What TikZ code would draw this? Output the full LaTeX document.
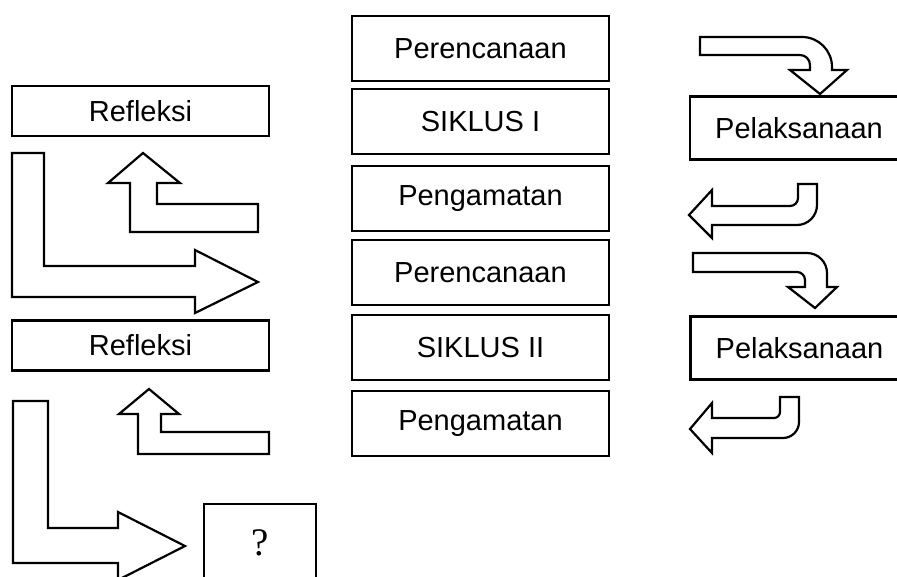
\documentclass[tikz,border=0pt]{standalone}
\usepackage{fontspec}
\setmainfont{Liberation Sans}
\newfontfamily\qfont{Liberation Serif}
\begin{document}
\begin{tikzpicture}[x=1pt,y=-1pt,
  box/.style={draw=black,line width=2.2pt,fill=white,inner sep=0pt,font=\fontsize{29}{34}\selectfont},
  midbox/.style={box,minimum width=257pt,minimum height=65pt},
  refbox/.style={box,minimum width=257pt,minimum height=50pt},
  pelbox/.style={box,minimum width=218pt,minimum height=63pt},
  blockarrow/.style={draw=black,line width=2.2pt,fill=white,line join=miter}]
\clip (0,0) rectangle (897,576);
\fill[white] (0,0) rectangle (897,576);
% middle column
\node[midbox] (per1) at (480.5,48.5) {Perencanaan};
\node[midbox] (sik1) at (480.5,121.5) {SIKLUS I};
\node[midbox] (pen1) at (480.5,198.5) {Pengamatan};
\node[midbox] (per2) at (480.5,272.5) {Perencanaan};
\node[midbox] (sik2) at (480.5,347.5) {SIKLUS II};
\node[midbox] (pen2) at (480.5,423.5) {Pengamatan};
% left column
\node[refbox] (ref1) at (140.5,111) {Refleksi};
\node[refbox] (ref2) at (140.5,345.5) {Refleksi};
% right column
\node[pelbox] (pel1) at (799,128) {Pelaksanaan};
\node[pelbox] (pel2) at (799.5,348) {Pelaksanaan};
% question box
\node[box,minimum width=112pt,minimum height=78pt,font=\qfont\fontsize{39}{44}\selectfont] (q) at (260,543) {?};
% left L arrows
\draw[blockarrow] (12,153) -- (44,153) -- (44,266) -- (195,266) -- (195,250) -- (258,282) -- (195,313) -- (195,297) -- (12,297) -- cycle;
\draw[blockarrow] (13,401) -- (48,401) -- (48,528) -- (118,528) -- (118,512) -- (185,546) -- (118,580) -- (118,563) -- (13,563) -- cycle;
% left small up arrows
\draw[blockarrow] (258,204) -- (157,204) -- (157,183) -- (180,183) -- (143,153) -- (108,183) -- (130,183) -- (130,232) -- (258,232) -- cycle;
\draw[blockarrow] (269,432) -- (161,432) -- (161,414) -- (179,414) -- (149,389) -- (119,414) -- (138,414) -- (138,454) -- (269,454) -- cycle;
% right curved arrows
\draw[blockarrow] (700,37) -- (802,37) .. controls (818.6,37) and (832,50.4) .. (832,67) -- (832,70) -- (847,70) -- (820,94) -- (790,70) -- (810,70) -- (810,65) .. controls (810,59.5) and (805.5,55) .. (800,55) -- (700,55) -- cycle;
\draw[blockarrow] (798,184) -- (817,184) -- (817,205) .. controls (817,216) and (808,225) .. (797,225) -- (712,225) -- (712,238) -- (689,215) -- (712,190) -- (712,206) -- (790,206) .. controls (794.4,206) and (798,202.4) .. (798,198) -- cycle;
\draw[blockarrow] (693,253) -- (807,253) .. controls (818,253) and (827,262) .. (827,273) -- (827,287) -- (837,287) -- (815,308) -- (788,287) -- (805,287) -- (805,280) .. controls (805,275.6) and (801.4,272) .. (797,272) -- (693,272) -- cycle;
\draw[blockarrow] (780,397) -- (799,397) -- (799,422) .. controls (799,430.8) and (791.8,438) .. (783,438) -- (712,438) -- (712,453) -- (690,429) -- (712,403) -- (712,418) -- (774,418) .. controls (777.3,418) and (780,415.3) .. (780,412) -- cycle;
\end{tikzpicture}
\end{document}
